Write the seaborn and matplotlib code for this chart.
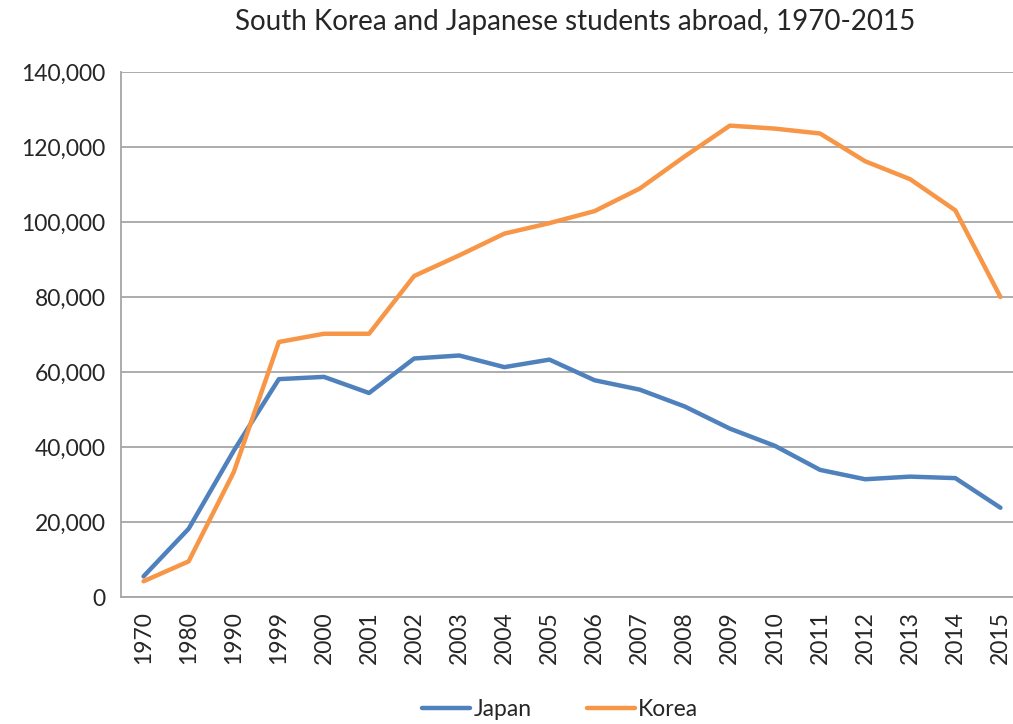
import pandas as pd
import seaborn as sns
import matplotlib.pyplot as plt
from matplotlib.ticker import FuncFormatter, MultipleLocator

# Data
years = ['1970', '1980', '1990', '1999', '2000', '2001', '2002', '2003', '2004', '2005',
         '2006', '2007', '2008', '2009', '2010', '2011', '2012', '2013', '2014', '2015']
japan = [5500, 18200, 39000, 58100, 58700, 54400, 63600, 64400, 61300, 63300,
         57800, 55300, 50800, 44900, 40300, 33900, 31400, 32100, 31700, 23800]
korea = [4200, 9500, 33300, 68000, 70200, 70200, 85600, 91100, 96900, 99700,
         102900, 108900, 117500, 125700, 124900, 123600, 116200, 111400, 103100, 80000]

df = pd.DataFrame({'Year': years, 'Japan': japan, 'Korea': korea})
long_df = df.melt(id_vars='Year', var_name='Country', value_name='Students')

sns.set_style('white')
plt.rcParams['font.family'] = ['Lato', 'DejaVu Sans']

fig = plt.figure(figsize=(10.13, 7.24), dpi=100)
# right edge runs past the figure, as in the cropped original
ax = fig.add_axes([121 / 1013, 127 / 724, 20 * 45.1 / 1013, 525 / 724])

sns.lineplot(data=long_df, x='Year', y='Students', hue='Country', sort=False,
             palette={'Japan': '#4F81BD', 'Korea': '#F79646'}, linewidth=3.2, ax=ax)

ax.set_xlim(-0.5, len(years) - 0.5)
ax.set_ylim(0, 140000)
ax.yaxis.set_major_locator(MultipleLocator(20000))
ax.yaxis.set_major_formatter(FuncFormatter(lambda v, p: f'{int(v):,}'))
ax.grid(axis='y', color='#A6A6A6', linewidth=1.3)
ax.set_axisbelow(True)

for s in ['top', 'right']:
    ax.spines[s].set_visible(False)
for s in ['left', 'bottom']:
    ax.spines[s].set_color('#A6A6A6')
    ax.spines[s].set_linewidth(1.3)

ax.set_xticks(range(len(years)))
ax.set_xticklabels(years, rotation=90)
ax.set_xticks([i + 0.5 for i in range(-1, len(years))], minor=True)
ax.tick_params(axis='x', which='major', length=0, pad=10, labelsize=16.5)
ax.tick_params(axis='x', which='minor', length=7, color='#A6A6A6', width=1.3)
ax.tick_params(axis='y', length=7, color='#A6A6A6', width=1.3, labelsize=16.5, pad=4)

ax.set_xlabel('')
ax.set_ylabel('')

fig.text(575 / 1013, 1 - 22 / 724, 'South Korea and Japanese students abroad, 1970-2015',
         ha='center', va='center', fontsize=20)

ax.legend(title=None, loc='center', bbox_to_anchor=(560 / 1013, 1 - 710 / 724),
          bbox_transform=fig.transFigure, ncol=2, frameon=False, fontsize=16.5,
          handlelength=2.1, handletextpad=0.15, columnspacing=2.4)

fig.savefig('out.png', dpi=100)
